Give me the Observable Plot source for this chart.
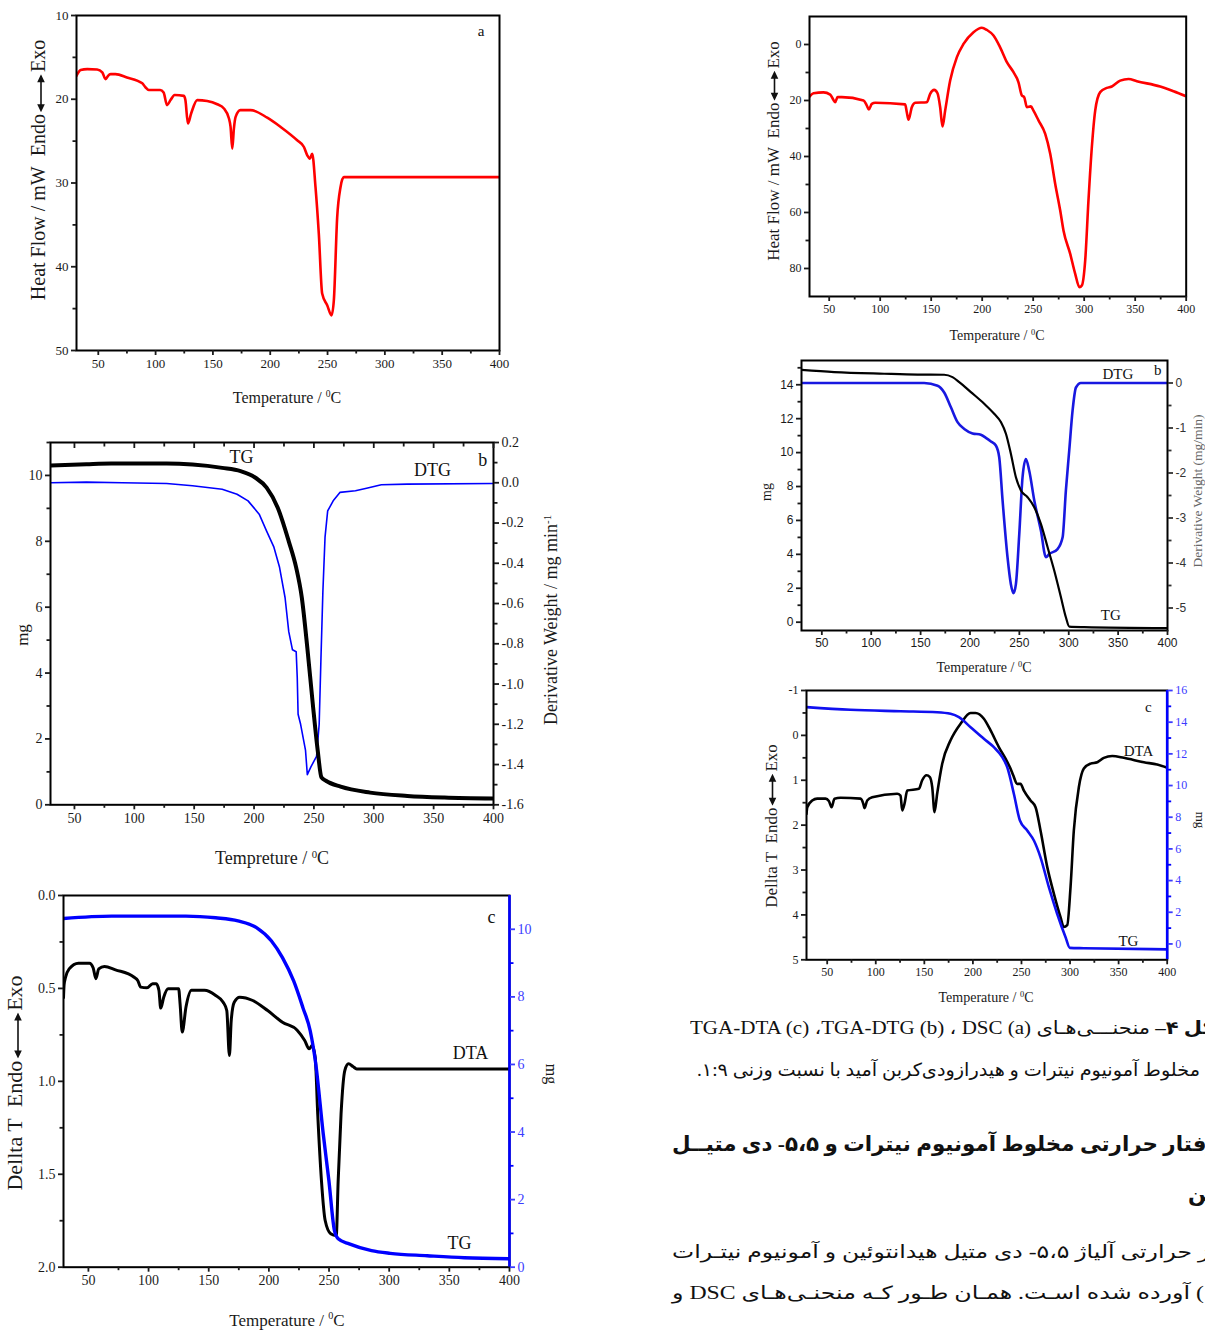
<!DOCTYPE html>
<html><head><meta charset="utf-8">
<script src="https://cdn.jsdelivr.net/npm/d3@7"></script>
<script src="https://cdn.jsdelivr.net/npm/@observablehq/plot@0.6"></script>
<style>
html,body{margin:0;padding:0;background:#fff;}
body{width:1205px;height:1331px;overflow:hidden;position:relative;font-family:"Liberation Serif",serif;}
.lab{position:absolute;white-space:nowrap;color:#1a1a1a;font-family:"Liberation Serif",serif;line-height:1;}
.lab sup{font-size:0.6em;vertical-align:0.6em;line-height:0;}
.fa{position:absolute;white-space:nowrap;direction:rtl;width:max-content;font-family:"Liberation Serif","DejaVu Sans",serif;color:#111;transform-origin:left center;line-height:1.5;}
.fa b{font-weight:bold;}
</style></head><body>
<script>
// ---------- shared ticks ----------
const X_MAJOR = [50,100,150,200,250,300,350,400];
const X_MINOR = [75,125,175,225,275,325,375];

// ---------- panel a (DSC, left top) ----------
const aYMajor = [10,20,30,40,50];
const aYMinor = [15,25,35,45];
const dscA = [[31,17.2],[34.6,16.5],[40.4,16.4],[49,16.45],[53.5,16.8],[56.4,17.6],[58.5,17.2],[60.8,17.0],[65,17.0],[75,17.4],[88.4,18.1],[91.3,18.6],[94,18.9],[104,18.9],[107,19.2],[110,20.7],[113,20.1],[116.6,19.5],[124.7,19.6],[126,20.1],[128.2,22.9],[131,21.7],[136.3,20.1],[145,20.2],[153.8,20.6],[159.6,21.1],[164,22.3],[165.4,23.3],[166.9,25.9],[168.3,23.5],[169.8,22.1],[174,21.3],[182.8,21.3],[197.4,22.2],[209,23.3],[223.5,24.9],[229.4,25.7],[232.3,26.7],[234.6,27.1],[236.6,26.5],[239.5,30.5],[242.4,36.1],[245.3,43.2],[249.7,44.6],[253.5,45.8],[255.5,44.0],[258.4,34.1],[261.3,30.5],[264.2,29.3],[270,29.3],[400,29.3]];
const labelsA = [[384,11.9,"a"]];

// ---------- panel b (TG-DTG, left middle) ----------
const bYMajor = [0,2,4,6,8,10];
const bYMinor = [1,3,5,7,9,11];
const bRMajor = [-1.6,-1.4,-1.2,-1.0,-0.8,-0.6,-0.4,-0.2,0.0,0.2];
const bRMinor = [-1.5,-1.3,-1.1,-0.9,-0.7,-0.5,-0.3,-0.1,0.1];
const tgB = [[30,10.3],[60,10.34],[80.6,10.36],[127,10.36],[148.6,10.33],[173.4,10.23],[188.8,10.13],[201.2,9.93],[210.5,9.63],[219.8,9.02],[229,8.0],[235.2,7.2],[239.9,6.29],[244.5,4.77],[249.1,3.05],[253.2,1.64],[256.3,0.83],[260,0.73],[272.3,0.55],[297,0.37],[328,0.27],[358.9,0.22],[400,0.19]];
const dtgB = [[30,0.0],[60,0.003],[90,0.0],[127,-0.004],[148.6,-0.015],[173.4,-0.032],[185.8,-0.057],[195,-0.09],[204.3,-0.156],[210.5,-0.24],[216.6,-0.32],[221.3,-0.42],[225.9,-0.57],[229,-0.74],[232.1,-0.83],[235.2,-0.84],[236.1,-0.97],[236.8,-1.15],[238.9,-1.2],[243,-1.33],[244.5,-1.45],[247.6,-1.41],[252.2,-1.36],[254.4,-1.2],[255.9,-0.87],[257.5,-0.54],[259.3,-0.27],[261.5,-0.14],[266.1,-0.09],[271.7,-0.048],[284.7,-0.04],[294,-0.027],[306.3,-0.01],[328,-0.007],[400,-0.004]];
const labelsB = [[189.6,10.55,"TG"],[349,10.15,"DTG"],[391,10.45,"b"]];

// ---------- panel c (DTA-TG, left bottom) ----------
const cYMajor = [0,0.5,1,1.5,2];
const cYMinor = [0.25,0.75,1.25,1.75];
const cRMajor = [0,2,4,6,8,10];
const cRMinor = [1,3,5,7,9];
const dtaC = [[29.3,0.55],[29.8,0.48],[31,0.44],[34,0.395],[41.7,0.364],[50.9,0.364],[54,0.39],[56.2,0.448],[58.6,0.395],[63.3,0.382],[72.5,0.40],[88,0.44],[91,0.457],[93.5,0.493],[98.7,0.497],[103.4,0.475],[106.4,0.475],[108.6,0.51],[110.1,0.606],[112.6,0.547],[116.3,0.502],[125,0.502],[126.2,0.583],[128,0.735],[131.1,0.60],[135.7,0.51],[146.5,0.51],[155.8,0.538],[162,0.574],[165,0.619],[167.2,0.861],[168.7,0.673],[171.2,0.574],[175.8,0.547],[186.6,0.565],[199,0.619],[211.3,0.682],[223.7,0.726],[229.8,0.78],[233.5,0.825],[236,0.807],[238.5,0.87],[240.6,1.175],[243.7,1.534],[246.8,1.749],[251.4,1.82],[256,1.83],[257.6,1.534],[260,1.175],[263.1,0.942],[266.2,0.906],[269.9,0.92],[273,0.933],[400,0.933]];
const tgC = [[29.3,10.32],[69.4,10.39],[131,10.39],[155.8,10.34],[174.3,10.25],[189.7,10.05],[202,9.66],[211.3,9.16],[220.6,8.47],[228.3,7.68],[234.4,6.99],[239,6.01],[245.2,3.94],[249.9,2.56],[254.5,1.08],[257.6,0.84],[266.8,0.69],[285.3,0.49],[300.8,0.41],[331.6,0.34],[362.4,0.28],[400,0.25]];
const labelsC = [[385,0.115,"c"],[367.6,0.85,"DTA"],[358.5,1.87,"TG"]];

// ---------- panel a2 (DSC, right top) ----------
const a2YMajor = [0,20,40,60,80];
const a2YMinor = [10,30,50,70];
const dscA2 = [[30.7,18.6],[34.6,17.4],[44.4,17.1],[51,17.9],[54.2,19.8],[55.9,20.6],[58.2,18.8],[62.4,18.8],[83.7,20.0],[86.9,21.8],[88.9,23.2],[91.8,21.2],[95.1,20.8],[124.5,21.4],[126.1,24.2],[127.8,26.9],[131,22.4],[134.3,20.8],[145.8,20.6],[149,17.6],[152.9,16.2],[156.2,17.4],[158.8,22.4],[161.1,29.3],[163.7,23.6],[168.6,12.9],[175.2,4.5],[181.7,-0.2],[191.5,-4.4],[199.7,-6.0],[204.6,-5.2],[211.1,-3.2],[217.6,1.0],[224.2,6.3],[230.7,9.9],[235.6,13.5],[238.9,18.2],[241.2,18.8],[243.8,22.4],[247.7,22.1],[250.3,23.6],[255.2,27.1],[261.8,31.9],[266.7,39.0],[271.6,49.8],[276.5,59.3],[279.7,66.4],[286.3,74.8],[291.2,81.9],[295.4,86.7],[297.7,86.1],[301,77.1],[304.2,55.7],[307.5,36.7],[310.8,23.6],[315.7,17.0],[322.2,15.5],[327.1,15.0],[335.3,12.9],[343.5,12.3],[351.6,13.1],[374.5,15.0],[387.6,16.7],[400,18.5]];

// ---------- panel b2 (TG-DTG, right middle) ----------
const b2YMajor = [0,2,4,6,8,10,12,14];
const b2YMinor = [1,3,5,7,9,11,13,15];
const b2RMajor = [0,-1,-2,-3,-4,-5];
const b2RMinor = [-0.5,-1.5,-2.5,-3.5,-4.5];
const tgB2 = [[29.4,14.88],[62.5,14.75],[113.1,14.65],[146.9,14.6],[173.9,14.59],[182.3,14.45],[189.1,14.16],[200.9,13.57],[214.4,12.88],[224.5,12.29],[231.3,11.8],[236.4,11.11],[241.4,9.93],[246.5,8.55],[251.6,7.77],[258.3,7.37],[265.1,6.78],[271.8,5.8],[278.6,4.42],[285.3,3.05],[292.1,1.47],[297.1,0.29],[300.5,-0.26],[315.7,-0.29],[400,-0.35]];
const dtgB2 = [[29.4,0],[153.6,0],[167.2,-0.06],[173.9,-0.21],[180.7,-0.54],[187.4,-0.87],[194.2,-1.02],[202.6,-1.12],[211,-1.15],[216.1,-1.22],[221.2,-1.3],[226.2,-1.39],[229.6,-1.65],[233,-2.61],[238,-3.87],[241.4,-4.47],[244.1,-4.67],[246.5,-4.47],[249.9,-3.36],[253.2,-2.1],[256.6,-1.69],[260,-1.95],[265.1,-2.61],[271.8,-3.28],[276.9,-3.87],[280.3,-3.8],[288.7,-3.69],[293.8,-3.43],[297.1,-2.39],[300.5,-1.5],[303.9,-0.61],[307.3,-0.1],[312.3,0],[400,0]];
const labelsB2 = [[349.7,14.6,"DTG"],[390.2,14.84,"b"],[342.6,0.39,"TG"]];

// ---------- panel c2 (DTA-TG, right bottom) ----------
const c2YMajor = [-1,0,1,2,3,4,5];
const c2YMinor = [-0.5,0.5,1.5,2.5,3.5,4.5];
const c2RMajor = [0,2,4,6,8,10,12,14,16];
const c2RMinor = [1,3,5,7,9,11,13,15];
const dtaC2 = [[28.7,1.75],[29.5,1.6],[34.6,1.45],[39.7,1.41],[48.3,1.41],[51.7,1.46],[54.5,1.6],[57.5,1.41],[63.7,1.39],[84.3,1.41],[87.1,1.52],[88.4,1.62],[91.2,1.45],[96.3,1.38],[122,1.3],[125.5,1.34],[127.2,1.67],[129.6,1.52],[132.4,1.23],[144.4,1.19],[147.8,1.0],[152.3,0.89],[155.7,0.93],[158.1,1.15],[160.5,1.71],[163.2,1.3],[168.4,0.63],[177,0.11],[187.3,-0.26],[197.6,-0.5],[202.7,-0.5],[211.3,-0.37],[218.2,-0.11],[226.7,0.26],[233.6,0.52],[238.7,0.74],[241.5,0.89],[245.6,1.08],[249,1.08],[252.5,1.23],[259.3,1.45],[264.5,1.6],[269.6,2.12],[276.5,2.93],[283.4,3.53],[290.2,4.05],[293.6,4.27],[297.1,4.23],[300.5,3.38],[303.9,2.12],[309.1,1.15],[314.2,0.74],[321.1,0.63],[328,0.6],[334.8,0.5],[343.4,0.46],[355.4,0.5],[376,0.6],[389.7,0.65],[400,0.72]];
const tgC2 = [[28.7,14.95],[74,14.78],[125.5,14.69],[163.2,14.63],[177,14.53],[185.6,14.32],[197.6,13.68],[211.3,12.95],[221.6,12.42],[230.2,11.79],[235.3,11.16],[242.2,9.47],[248.4,7.79],[255.9,7.16],[262.8,6.53],[269.6,5.47],[278.2,3.58],[286.8,1.89],[295.4,0.42],[299.8,-0.25],[314.2,-0.27],[400,-0.34]];
const labelsC2 = [[380.7,-0.62,"c"],[370.4,0.36,"DTA"],[360.1,4.59,"TG"]];

// ---------- helpers ----------
const lin = (s0, s1, p0, p1) => v => p0 + (v - s0) / (s1 - s0) * (p1 - p0);
const fmt1 = v => { const r = Math.round(v * 10) / 10; return (r === 0 ? 0 : r).toFixed(1); };
const fmt0 = v => { const r = Math.round(v); return String(r === 0 ? 0 : r); };
const SERIF = "Liberation Serif";
const SANS = "Liberation Sans";

function panel(o) {
  const mL = 55, mR = 55, mT = 12, mB = 34;
  const w = o.R - o.L + mL + mR, h = o.B - o.T + mT + mB;
  const tf = o.tickFont || 13;
  const marks = [...o.marks, Plot.frame({stroke: "#000", strokeWidth: 2})];
  if (o.rightColor) marks.push(Plot.ruleX([o.xDomain[1]], {stroke: o.rightColor, strokeWidth: 2.6}));
  marks.push(
    Plot.axisX({ticks: X_MAJOR, tickSize: 5, tickPadding: 3, tickFormat: d => String(d), label: null, strokeWidth: 1.8}),
    Plot.axisX({ticks: X_MINOR, tickSize: 3.5, tickPadding: 3, tickFormat: () => "", label: null, strokeWidth: 1.8}),
    Plot.axisY({ticks: o.yMajor, tickSize: 5, tickPadding: 3, tickFormat: o.yFormat || (d => String(d)), label: null, strokeWidth: 1.8}),
    Plot.axisY({ticks: o.yMinor, tickSize: 3.5, tickFormat: () => "", label: null, strokeWidth: 1.8})
  );
  if (o.topTicks) marks.push(
    Plot.axisX({anchor: "top", ticks: X_MAJOR, tickSize: -5, tickFormat: () => "", label: null, strokeWidth: 1.8}),
    Plot.axisX({anchor: "top", ticks: X_MINOR, tickSize: -3.5, tickFormat: () => "", label: null, strokeWidth: 1.8})
  );
  if (o.right) {
    const r = o.right;
    marks.push(
      Plot.axisY({anchor: "right", ticks: r.major.map(r.map), tickSize: 5, tickPadding: 3, tickFormat: p => r.fmt(r.inv(p)), label: null, strokeWidth: 1.8, color: r.color || "#1a1a1a"}),
      Plot.axisY({anchor: "right", ticks: r.minor.map(r.map), tickSize: 3.5, tickFormat: () => "", label: null, strokeWidth: 1.8, color: r.tickColor || r.color || "#1a1a1a"})
    );
  }
  const svg = Plot.plot({
    width: w, height: h, marginLeft: mL, marginRight: mR, marginTop: mT, marginBottom: mB,
    x: {domain: o.xDomain},
    y: {domain: o.yDomain, reverse: !!o.yReverse},
    style: {background: "transparent", fontFamily: o.tickFamily || SERIF, fontSize: tf + "px", color: "#1a1a1a", overflow: "visible"},
    marks
  });
  svg.style.position = "absolute";
  svg.style.left = (o.L - mL) + "px";
  svg.style.top = (o.T - mT) + "px";
  document.body.appendChild(svg);
}

function ann(arr, size, map) {
  return Plot.text(arr, {x: d => d[0], y: d => map ? map(d[1]) : d[1], text: d => d[2], fontSize: size, fontFamily: SERIF, fill: "#111"});
}

function arrow(len, col) {
  const c = col || "#111";
  return `<svg width="${len}" height="10" style="vertical-align:-0.05em;margin:0 2px"><line x1="5" y1="5" x2="${len-5}" y2="5" stroke="${c}" stroke-width="1.6"/><path d="M0,5 L8,1.2 L8,8.8Z M${len},5 L${len-8},1.2 L${len-8},8.8Z" fill="${c}"/></svg>`;
}

function label(html, cx, cy, size, rot, color) {
  const d = document.createElement("div");
  d.className = "lab";
  d.innerHTML = html;
  d.style.left = cx + "px";
  d.style.top = cy + "px";
  d.style.fontSize = size + "px";
  d.style.transform = `translate(-50%,-50%) rotate(${rot || 0}deg)`;
  if (color) d.style.color = color;
  document.body.appendChild(d);
}

// ---------- panel a ----------
panel({L: 76, T: 15, R: 499, B: 350, xDomain: [31, 400], yDomain: [10, 50], yReverse: true,
  yMajor: aYMajor, yMinor: aYMinor, tickFont: 13,
  marks: [
    Plot.line(dscA, {x: d => d[0], y: d => d[1], stroke: "#ff0000", strokeWidth: 2.6, curve: "monotone-x", clip: true}),
    ann(labelsA, 15)
  ]});

// ---------- panel b ----------
const toB = lin(-1.6, 0.2, 0, 11), fromB = lin(0, 11, -1.6, 0.2);
panel({L: 50, T: 441.7, R: 493, B: 804, xDomain: [30, 400], yDomain: [0, 11],
  yMajor: bYMajor, yMinor: bYMinor, tickFont: 14, topTicks: true,
  right: {major: bRMajor, minor: bRMinor, map: toB, inv: fromB, fmt: fmt1},
  marks: [
    Plot.line(dtgB, {x: d => d[0], y: d => toB(d[1]), stroke: "#0000ff", strokeWidth: 1.6, clip: true}),
    Plot.line(tgB, {x: d => d[0], y: d => d[1], stroke: "#000", strokeWidth: 4, curve: "monotone-x", clip: true}),
    ann(labelsB, 18)
  ]});

// ---------- panel c ----------
const toC = lin(0, 11, 2, 0), fromC = lin(2, 0, 0, 11);
panel({L: 63, T: 895, R: 509, B: 1266.7, xDomain: [29.3, 400], yDomain: [0, 2], yReverse: true,
  yMajor: cYMajor, yMinor: cYMinor, yFormat: fmt1, tickFont: 14, rightColor: "#0000ff",
  right: {major: cRMajor, minor: cRMinor, map: toC, inv: fromC, fmt: fmt0, color: "#3b3bff", tickColor: "#0000ff"},
  marks: [
    Plot.line(dtaC, {x: d => d[0], y: d => d[1], stroke: "#000", strokeWidth: 3, curve: "monotone-x", clip: true}),
    Plot.line(tgC, {x: d => d[0], y: d => toC(d[1]), stroke: "#0000ff", strokeWidth: 3.4, curve: "monotone-x", clip: true}),
    ann(labelsC, 18)
  ]});

// ---------- panel a2 ----------
panel({L: 809.3, T: 15.7, R: 1186, B: 295.7, xDomain: [30.7, 400], yDomain: [-10, 90], yReverse: true,
  yMajor: a2YMajor, yMinor: a2YMinor, tickFont: 12,
  marks: [
    Plot.line(dscA2, {x: d => d[0], y: d => d[1], stroke: "#ff0000", strokeWidth: 2.6, curve: "monotone-x", clip: true})
  ]});

// ---------- panel b2 ----------
const toB2 = lin(-5.5, 0.5, -0.49, 15.43), fromB2 = lin(-0.49, 15.43, -5.5, 0.5);
panel({L: 800.7, T: 360, R: 1166.7, B: 630, xDomain: [29.4, 400], yDomain: [-0.49, 15.43],
  yMajor: b2YMajor, yMinor: b2YMinor, tickFont: 12, tickFamily: SANS,
  right: {major: b2RMajor, minor: b2RMinor, map: toB2, inv: fromB2, fmt: fmt0, color: "#333"},
  marks: [
    Plot.line(dtgB2, {x: d => d[0], y: d => toB2(d[1]), stroke: "#1818e0", strokeWidth: 2.6, curve: "monotone-x", clip: true}),
    Plot.line(tgB2, {x: d => d[0], y: d => d[1], stroke: "#000", strokeWidth: 2.2, curve: "monotone-x", clip: true}),
    ann(labelsB2, 15)
  ]});

// ---------- panel c2 ----------
const toC2 = lin(-1, 16, 5, -1), fromC2 = lin(5, -1, -1, 16);
panel({L: 806, T: 690, R: 1166.7, B: 959.3, xDomain: [28.7, 400], yDomain: [-1, 5], yReverse: true,
  yMajor: c2YMajor, yMinor: c2YMinor, tickFont: 12, rightColor: "#0000ff",
  right: {major: c2RMajor, minor: c2RMinor, map: toC2, inv: fromC2, fmt: fmt0, color: "#3b3bff", tickColor: "#0000ff"},
  marks: [
    Plot.line(dtaC2, {x: d => d[0], y: d => d[1], stroke: "#000", strokeWidth: 2.6, curve: "monotone-x", clip: true}),
    Plot.line(tgC2, {x: d => d[0], y: d => toC2(d[1]), stroke: "#1010f0", strokeWidth: 2.6, curve: "monotone-x", clip: true}),
    ann(labelsC2, 15)
  ]});

// ---------- axis titles ----------
const degC = "Temperature / <sup>0</sup>C";
label(`Heat Flow / mW&nbsp; Endo${arrow(38)}Exo`, 38, 170, 20, -90);
label(degC, 287, 398, 16);
label("mg", 22, 635, 17, -90);
label("Derivative Weight / mg min<sup>-1</sup>", 551, 620, 18, -90);
label("Tempreture / <sup>0</sup>C", 272, 858, 18);
label(`Dellta T&nbsp; Endo${arrow(46)}Exo`, 15, 1083, 22, -90);
label(degC, 287, 1320, 17);
label("mg", 551, 1074, 16, 90);
label(`Heat Flow / mW&nbsp; Endo${arrow(30)}Exo`, 773, 151, 17, -90);
label(degC, 997, 336, 14);
label("mg", 767, 492, 14, -90);
label("Derivative Weight (mg/min)", 1198, 491, 13.5, -90, "#666");
label(degC, 984, 668, 14);
label(`Dellta T&nbsp; Endo${arrow(32)}Exo`, 771, 826, 17, -90);
label(degC, 986, 998, 14);
label("mg", 1200, 820, 13, 90);

// ---------- Persian caption & body text (clipped at page edge) ----------
const textLines = [
  {cy: 1028, left: 690, visRight: 1150, size: 18, html: '<b class="cut">شکل ۴– </b>منحنـــی‌هـای <bdi dir="ltr">DSC (a)</bdi> ، <bdi dir="ltr">TGA-DTG (b)</bdi>، <bdi dir="ltr">TGA-DTA (c)</bdi>'},
  {cy: 1070, left: 697, visRight: 1200, size: 18, html: 'مخلوط آمونیوم نیترات و هیدرازودی‌کربن آمید با نسبت وزنی ۱:۹.'},
  {cy: 1145, left: 672, visRight: 1158, size: 21, html: '<b><span class="cut">رفتار </span>حرارتی مخلوط آمونیوم نیترات و ۵،۵- دی متیــل</b>'},
  {cy: 1195, left: 1188, visRight: null, size: 21, html: '<b>هیدانتوئین</b>'},
  {cy: 1252, left: 672, visRight: 1192, size: 18, html: '<span class="cut">آنالیز </span>حرارتی آلیاژ ۵،۵- دی متیل هیدانتوئین و آمونیوم نیتـرات'},
  {cy: 1293, left: 672, visRight: 1190, size: 18, html: '<span class="cut">(شکل ۶) </span>آورده شده اسـت. همـان طـور کـه منحنـی‌هـای <bdi dir="ltr">DSC</bdi> و'}
];
for (const t of textLines) {
  const d = document.createElement("div");
  d.className = "fa";
  d.innerHTML = t.html;
  d.style.fontSize = t.size + "px";
  d.style.left = t.left + "px";
  d.style.top = (t.cy - t.size * 0.75) + "px";
  document.body.appendChild(d);
  if (t.visRight) {
    const total = d.getBoundingClientRect().width;
    const cut = d.querySelector(".cut");
    const cw = cut ? cut.getBoundingClientRect().width : 0;
    const s = (t.visRight - t.left) / (total - cw);
    d.style.transform = `scaleX(${s})`;
  }
}
</script>
</body></html>
